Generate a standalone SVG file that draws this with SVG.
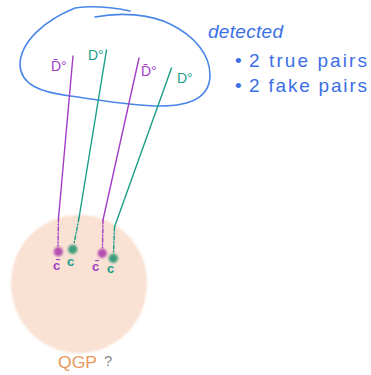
<svg xmlns="http://www.w3.org/2000/svg" width="371" height="375" viewBox="0 0 371 375">
  <style>
    .hand { font-family: "Liberation Sans", "DejaVu Sans", sans-serif; }
    .note { fill: #3a6fe6; font-size: 19px; }
    .purple { fill: #a23cc4; }
    .green { fill: #1a9e88; }
    .meson { font-size: 14px; }
    .quark { font-size: 13px; font-weight: bold; }
    .lp { stroke: #a23cc4; stroke-width: 1.4; fill: none; stroke-linecap: round; }
    .lg { stroke: #1a9e88; stroke-width: 1.4; fill: none; stroke-linecap: round; }
    .dash { stroke-dasharray: 4 2 1 2; }
  </style>
  <defs>
    <filter id="soft" x="-20%" y="-20%" width="140%" height="140%">
      <feGaussianBlur stdDeviation="0.9"/>
    </filter>
    <filter id="fuzz" x="-50%" y="-50%" width="200%" height="200%">
      <feGaussianBlur stdDeviation="1"/>
    </filter>
  </defs>

  <rect width="371" height="375" fill="#ffffff"/>

  <!-- quark-gluon plasma blob -->
  <g id="qgp">
    <path filter="url(#soft)" fill="#f9e1d3"
      d="M 79,215 C 117,215 147,245 147,283 C 147,322 117,353 79,353 C 41,353 11,322 11,283 C 11,245 41,215 79,215 Z"/>
    <text class="hand" x="58" y="368" font-size="17" fill="#e8975c" textLength="39" lengthAdjust="spacingAndGlyphs">QGP</text>
    <text class="hand" x="104" y="366" font-size="15" fill="#8a8a8a">?</text>
  </g>

  <!-- detector outline -->
  <g id="detector">
    <path fill="none" stroke="#4a86e8" stroke-width="1.6" stroke-linecap="round"
      d="M 95,17 C 120,12 150,14 170,24 C 195,36 210,55 210,75 C 210,95 195,106 160,106 C 130,106 100,100 70,96 C 40,92 21,85 20,65 C 20,42 45,20 75,8 C 95,5 115,8 130,11"/>
  </g>

  <!-- annotation -->
  <g id="annotation">
    <text class="hand note" x="208" y="38" textLength="75" lengthAdjust="spacing" font-style="italic">detected</text>
    <text class="hand note" x="235" y="67">•</text>
    <text class="hand note" x="249" y="67" textLength="118" lengthAdjust="spacing">2 true pairs</text>
    <text class="hand note" x="235" y="92">•</text>
    <text class="hand note" x="249" y="92" textLength="118" lengthAdjust="spacing">2 fake pairs</text>
  </g>

  <!-- tracks -->
  <g id="connectors">
    <path class="lp" d="M 73,56 L 58.5,218"/>
    <path class="lp dash" d="M 58.5,218 L 58,246"/>
    <path class="lg" d="M 106.5,50 L 79,218"/>
    <path class="lg dash" d="M 79,218 L 74,244"/>
    <path class="lp" d="M 139,58 L 103,220"/>
    <path class="lp dash" d="M 103,220 L 102.5,248"/>
    <path class="lg" d="M 171.5,68 L 114.5,227"/>
    <path class="lg dash" d="M 114.5,227 L 113.5,253"/>
  </g>

  <!-- mesons -->
  <g id="dbar1"><text class="hand meson purple" x="51" y="71">D̄°</text></g>
  <g id="d1"><text class="hand meson green" x="88" y="60">D°</text></g>
  <g id="dbar2"><text class="hand meson purple" x="141" y="76">D̄°</text></g>
  <g id="d2"><text class="hand meson green" x="177" y="83">D°</text></g>

  <!-- quarks -->
  <g id="cbar1">
    <circle cx="58.3" cy="251.7" r="4.6" fill="#b64fb2" filter="url(#fuzz)"/>
    <text class="hand quark purple" x="53" y="270">c̄</text>
  </g>
  <g id="c1">
    <circle cx="72.7" cy="249.3" r="4.6" fill="#3e9c7c" filter="url(#fuzz)"/>
    <text class="hand quark green" x="67" y="266">c</text>
  </g>
  <g id="cbar2">
    <circle cx="102.3" cy="253.3" r="4.6" fill="#b64fb2" filter="url(#fuzz)"/>
    <text class="hand quark purple" x="92" y="271">c̄</text>
  </g>
  <g id="c2">
    <circle cx="113.3" cy="258.3" r="4.6" fill="#3e9c7c" filter="url(#fuzz)"/>
    <text class="hand quark green" x="107" y="273">c</text>
  </g>
</svg>
